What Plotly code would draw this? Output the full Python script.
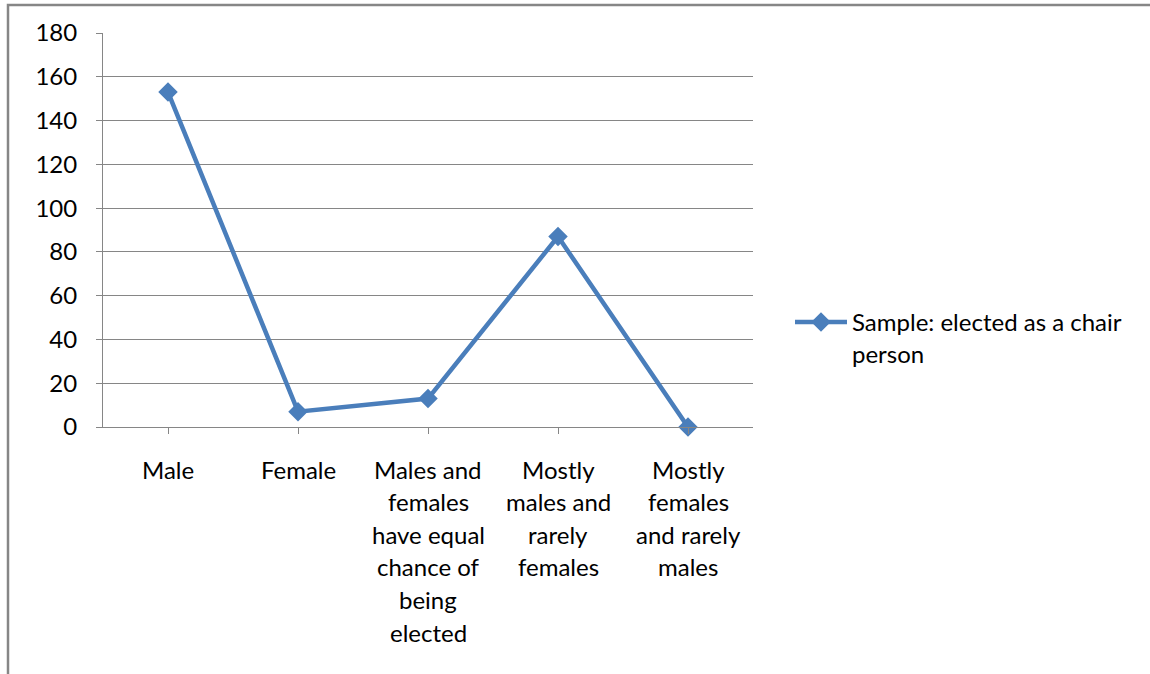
import plotly.graph_objects as go

categories = [
    "Male",
    "Female",
    "Males and<br>females<br>have equal<br>chance of<br>being<br>elected",
    "Mostly<br>males and<br>rarely<br>females",
    "Mostly<br>females<br>and rarely<br>males",
]
values = [153, 7, 13, 87, 0]
series_name = "Sample: elected as a chair<br>person"
y_ticks = [0, 20, 40, 60, 80, 100, 120, 140, 160, 180]

W, H = 1150, 674
L, R, T, B = 103, 753, 33, 427
pw, ph = R - L, B - T
FONT = "Lato"
FS = 24
grey = "#868686"
blue = "#4A7EBB"

fig = go.Figure()
fig.add_trace(go.Scatter(
    x=list(range(len(categories))), y=values, name=series_name,
    mode="lines+markers",
    line=dict(color=blue, width=4.5),
    marker=dict(symbol="diamond", size=15, color=blue),
    cliponaxis=False,
))

# category labels, one annotation per line for Excel-like line spacing
for i, lab in enumerate(categories):
    for k, line in enumerate(lab.split("<br>")):
        fig.add_annotation(
            x=i, y=0, xref="x", yref="paper", text=line, showarrow=False,
            yanchor="middle", xanchor="center",
            yshift=-(469 - B) - k * 32.6,
            font=dict(family=FONT, size=FS, color="black"),
        )

# outer chart border
fig.add_shape(
    type="rect", xref="paper", yref="paper",
    x0=(8 - L) / pw, x1=(W + 20 - L) / pw,
    y0=(B - (H + 20)) / ph, y1=(B - 5) / ph,
    line=dict(color=grey, width=2.5), fillcolor="rgba(0,0,0,0)", layer="below",
)

fig.update_layout(
    width=W, height=H,
    margin=dict(l=L, r=W - R, t=T, b=H - B, pad=0),
    paper_bgcolor="white", plot_bgcolor="white",
    font=dict(family=FONT, size=FS, color="black"),
    showlegend=True,
    legend=dict(
        x=(790 - L) / pw, y=(B - 300) / ph, xanchor="left", yanchor="top",
        valign="top", font=dict(family=FONT, size=FS, color="black"),
        bgcolor="rgba(0,0,0,0)", itemwidth=52, tracegroupgap=0,
    ),
    xaxis=dict(
        range=[-0.5, len(categories) - 0.5],
        tickmode="array", tickvals=list(range(len(categories))),
        ticktext=[""] * len(categories),
        showticklabels=False,
        tickson="boundaries", ticks="outside", ticklen=6, tickcolor=grey, tickwidth=1,
        showline=True, linecolor=grey, linewidth=1,
        showgrid=False, zeroline=False, fixedrange=True,
    ),
    yaxis=dict(
        range=[0, 180], tickmode="array", tickvals=y_ticks,
        ticks="outside", ticklen=6, tickcolor=grey, tickwidth=1,
        showline=True, linecolor=grey, linewidth=1,
        showgrid=True, gridcolor=grey, gridwidth=1,
        zeroline=False, ticklabelstandoff=14,
        tickfont=dict(family=FONT, size=FS, color="black"),
        fixedrange=True,
    ),
)

fig.write_html("out.html", config={"displayModeBar": False},
               post_script="document.body.style.margin='0';")
